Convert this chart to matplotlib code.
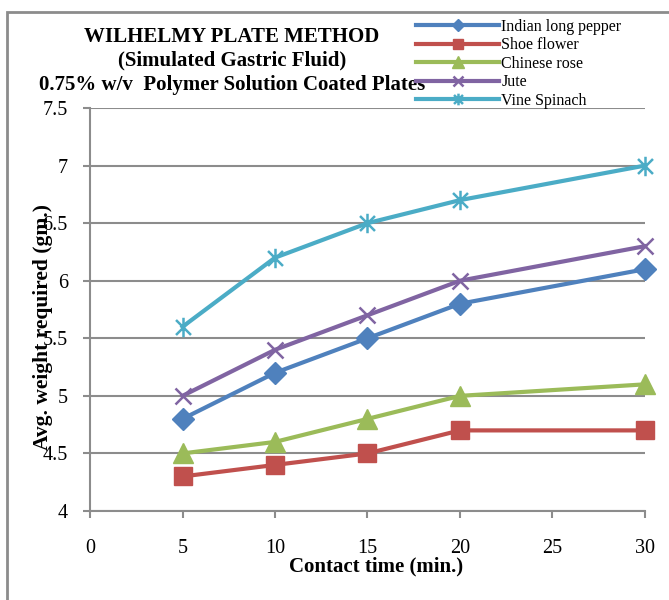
import matplotlib
matplotlib.use("Agg")
import matplotlib.pyplot as plt
from matplotlib.path import Path

plt.rcParams['font.family'] = ['Liberation Serif', 'DejaVu Serif']

time = [5, 10, 15, 20, 30]
series_names = ["Indian long pepper", "Shoe flower", "Chinese rose", "Jute", "Vine Spinach"]
indian_long_pepper = [4.8, 5.2, 5.5, 5.8, 6.1]
shoe_flower = [4.3, 4.4, 4.5, 4.7, 4.7]
chinese_rose = [4.5, 4.6, 4.8, 5.0, 5.1]
jute = [5.0, 5.4, 5.7, 6.0, 6.3]
vine_spinach = [5.6, 6.2, 6.5, 6.7, 7.0]
x_ticks = [0, 5, 10, 15, 20, 25, 30]
y_ticks = [4, 4.5, 5, 5.5, 6, 6.5, 7, 7.5]
y_tick_labels = ["4", "4.5", "5", "5.5", "6", "6.5", "7", "7.5"]

star = Path([(-1, -1), (1, 1), (-1, 1), (1, -1), (0, -1.3), (0, 1.3)],
            [Path.MOVETO, Path.LINETO, Path.MOVETO, Path.LINETO, Path.MOVETO, Path.LINETO])

colors = ["#4F81BD", "#C0504D", "#9BBB59", "#8064A2", "#4BACC6"]
markers = ["D", "s", "^", "x", star]
msizes = [11, 13, 14, 12, 14]
data = [indian_long_pepper, shoe_flower, chinese_rose, jute, vine_spinach]

fig = plt.figure(figsize=(6.69, 6.0), dpi=100)
# outer border
fig.patches.append(plt.Rectangle((7/669, -0.1), 1.2, 1 - 12/600 + 0.1, transform=fig.transFigure,
                                 fill=False, edgecolor="#8C8C8C", linewidth=2))
ax = fig.add_axes([90/669, 1 - 511/600, (645 - 90)/669, (511 - 108)/600])

for name, vals, c, m, ms in zip(series_names, data, colors, markers, msizes):
    kw = {}
    if m in ("x",) or isinstance(m, Path):
        kw = dict(markeredgewidth=1.8, markeredgecolor=c)
    ax.plot(time, vals, color=c, linewidth=3, marker=m, markersize=ms, label=name,
            zorder=3, clip_on=False, **kw)

ax.set_xlim(0, 30)
ax.set_ylim(4, 7.5)
ax.set_xticks(x_ticks)
ax.set_yticks(y_ticks)
ax.set_yticklabels(y_tick_labels)
ax.grid(axis='y', color="#8C8C8C", linewidth=1.5)
ax.set_axisbelow(True)
for s in ["top", "right"]:
    ax.spines[s].set_visible(False)
for s in ["left", "bottom"]:
    ax.spines[s].set_color("#8C8C8C")
    ax.spines[s].set_linewidth(1.5)
ax.tick_params(axis='both', colors="#8C8C8C", width=1.5, length=5, labelsize=14.5, labelcolor="black")
ax.tick_params(axis='x', pad=15)
ax.tick_params(axis='y', pad=11)

ax.set_xlabel("Contact time (min.)", fontsize=15, fontweight='bold')
ax.xaxis.set_label_coords((376 - 90) / (645 - 90), -(566 - 511) / (511 - 108))
ax.xaxis.label.set_va('center')
ax.set_ylabel("Avg. weight required (gm.)", fontsize=15.5, fontweight='bold')
ax.yaxis.set_label_coords((43 - 90) / (645 - 90), (511 - 327) / (511 - 108))
ax.yaxis.label.set_va('center')

fig.text(232/669, 1 - 37/600, "WILHELMY PLATE METHOD", ha='center', va='center',
         fontsize=15, fontweight='bold')
fig.text(232/669, 1 - 60/600, "(Simulated Gastric Fluid)", ha='center', va='center',
         fontsize=15, fontweight='bold')
fig.text(232/669, 1 - 85/600, "0.75% w/v  Polymer Solution Coated Plates", ha='center', va='center',
         fontsize=15, fontweight='bold')

leg = fig.legend(loc='upper left', bbox_to_anchor=(416/669, 1 - 19/600), frameon=False,
                 fontsize=11.5, handlelength=5.2, handletextpad=0.15, labelspacing=0.15,
                 markerscale=0.6, borderpad=0, borderaxespad=0)

fig.savefig("out.png", dpi=100)
